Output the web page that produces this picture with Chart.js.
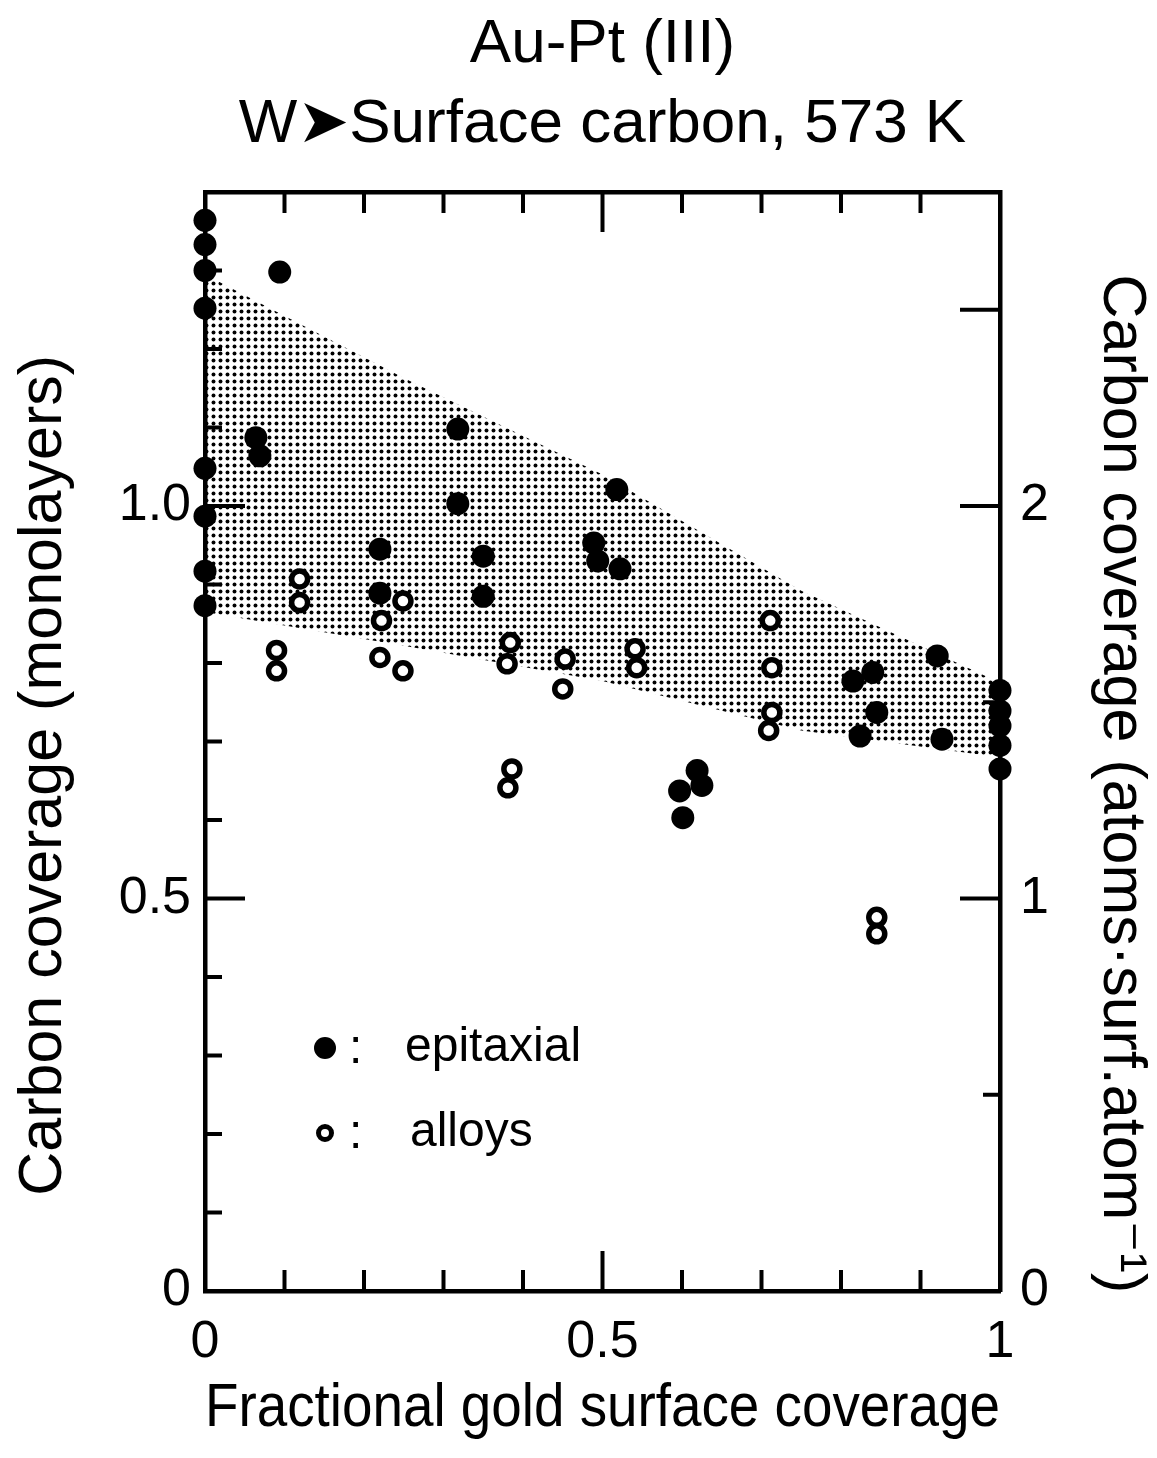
<!DOCTYPE html>
<html>
<head>
<meta charset="utf-8">
<script src="https://cdn.jsdelivr.net/npm/chart.js@4.4.1/dist/chart.umd.min.js"></script>
<style>
html,body{margin:0;padding:0;background:#fff;}
canvas{display:block;}
</style>
</head>
<body>
<canvas id="c" width="1157" height="1458"></canvas>
<script>
// ---------- text ----------
const titleLines = ['Au-Pt (III)', 'W\u27A4Surface carbon, 573 K'];
const xTitle = 'Fractional gold surface coverage';
const yTitle = 'Carbon coverage (monolayers)';
const y2Title = 'Carbon coverage (atoms\u00B7surf.atom\u207B\u00B9)';
const legendLabels = ['epitaxial', 'alloys'];

// ---------- tick labels ----------
const xTickLabels = [0, 0.5, 1];
const yTickLabels = [0, 0.5, 1.0];
const y2TickLabels = [0, 1, 2];

// ---------- data: epitaxial (filled) ----------
const epiX = [0, 0, 0, 0, 0, 0, 0, 0,
  0.094, 0.064, 0.069, 0.318, 0.318, 0.22, 0.22, 0.35, 0.35,
  0.518, 0.489, 0.494, 0.522,
  0.619, 0.625, 0.597, 0.601,
  0.921, 0.815, 0.84, 0.845, 0.824, 0.927,
  1, 1, 1, 1, 1];
const epiY = [1.364, 1.333, 1.300, 1.252, 1.048, 0.987, 0.917, 0.873,
  1.298, 1.087, 1.064, 1.098, 1.003, 0.945, 0.889, 0.936, 0.885,
  1.021, 0.953, 0.930, 0.920,
  0.663, 0.644, 0.637, 0.603,
  0.809, 0.777, 0.788, 0.737, 0.707, 0.703,
  0.765, 0.739, 0.720, 0.695, 0.665];

// ---------- data: alloys (open) ----------
const alloyX = [0.119, 0.119, 0.09, 0.09, 0.222, 0.22, 0.249, 0.249,
  0.384, 0.38, 0.386, 0.381, 0.453, 0.45, 0.541, 0.543,
  0.711, 0.713, 0.713, 0.709, 0.845, 0.845];
const alloyY = [0.907, 0.877, 0.816, 0.790, 0.854, 0.807, 0.879, 0.790,
  0.826, 0.799, 0.665, 0.641, 0.805, 0.767, 0.818, 0.794,
  0.854, 0.794, 0.737, 0.714, 0.476, 0.455];

// ---------- shaded band ----------
const bandX = [0, 0.25, 0.5, 0.75, 1];
const bandUpper = [1.295, 1.163, 1.040, 0.892, 0.775];
const bandLower = [0.865, 0.822, 0.777, 0.714, 0.680];

const INK = '#000';
const FONT = "'Liberation Sans', Arial, 'DejaVu Sans', sans-serif";

const pts = (xs, ys) => xs.map((v, i) => ({x: v, y: ys[i]}));

// halftone pattern
function makePattern() {
  const t = document.createElement('canvas');
  t.width = 7; t.height = 7;
  const g = t.getContext('2d');
  g.fillStyle = INK;
  g.beginPath(); g.arc(3.5, 3.5, 1.95, 0, Math.PI * 2); g.fill();
  return g.createPattern(t, 'repeat');
}
const pattern = makePattern();

const inwardTicks = {
  id: 'inwardTicks',
  beforeDatasetsDraw(chart) {
    const {ctx, chartArea: a, scales} = chart;
    const x = scales.x, y = scales.y, y2 = scales.y2;
    ctx.save();
    ctx.strokeStyle = INK; ctx.lineWidth = 4; ctx.lineCap = 'butt';
    const line = (x1, y1, x2, yy2) => { ctx.beginPath(); ctx.moveTo(x1, y1); ctx.lineTo(x2, yy2); ctx.stroke(); };
    for (let i = 1; i < 10; i++) {
      const px = x.getPixelForValue(i / 10);
      const L = i === 5 ? 40 : 21;
      line(px, a.bottom, px, a.bottom - L);
      line(px, a.top, px, a.top + L);
    }
    for (let i = 1; i <= 13; i++) {
      const py = y.getPixelForValue(i / 10);
      const L = (i % 5 === 0) ? 40 : 17;
      line(a.left, py, a.left + L, py);
    }
    for (let i = 1; i <= 5; i++) {
      const py = y2.getPixelForValue(i * 0.5);
      const L = (i % 2 === 0 || i === 5) ? 40 : 17;
      line(a.right, py, a.right - L, py);
    }
    ctx.restore();
  },
  afterDraw(chart) {
    const {ctx, chartArea: a} = chart;
    ctx.save();
    const lx = a.left + 120;
    const ly1 = a.top + 856, ly2 = a.top + 941;
    ctx.fillStyle = INK;
    ctx.beginPath(); ctx.arc(lx, ly1, 11, 0, Math.PI * 2); ctx.fill();
    ctx.strokeStyle = INK; ctx.lineWidth = 5;
    ctx.beginPath(); ctx.arc(lx, ly2, 6.5, 0, Math.PI * 2); ctx.stroke();
    ctx.font = '48px ' + FONT;
    ctx.textBaseline = 'middle';
    ctx.textAlign = 'left';
    ctx.fillText(':', lx + 24, ly1 + 2);
    ctx.fillText(':', lx + 24, ly2 + 2);
    ctx.fillText(legendLabels[0], lx + 80, ly1);
    ctx.fillText(legendLabels[1], lx + 85, ly2);
    ctx.restore();
  }
};

new Chart(document.getElementById('c'), {
  type: 'scatter',
  plugins: [inwardTicks],
  data: {
    datasets: [
      {
        type: 'line', label: 'band upper', data: pts(bandX, bandUpper),
        borderWidth: 0, borderColor: 'rgba(0,0,0,0)', pointRadius: 0,
        backgroundColor: pattern, fill: '+1', order: 10, tension: 0
      },
      {
        type: 'line', label: 'band lower', data: pts(bandX, bandLower),
        borderWidth: 0, borderColor: 'rgba(0,0,0,0)', pointRadius: 0,
        fill: false, order: 11, tension: 0
      },
      {
        label: legendLabels[0], data: pts(epiX, epiY),
        pointRadius: 11.5, pointBackgroundColor: INK, pointBorderWidth: 0,
        backgroundColor: INK, borderColor: INK, clip: false, order: 1
      },
      {
        label: legendLabels[1], data: pts(alloyX, alloyY),
        pointRadius: 8, pointBackgroundColor: '#fff', pointBorderColor: INK, pointBorderWidth: 5.5,
        backgroundColor: '#fff', borderColor: INK, clip: false, order: 0
      }
    ]
  },
  options: {
    responsive: false,
    animation: false,
    layout: {padding: 0},
    plugins: {
      legend: {display: false},
      tooltip: {enabled: false},
      title: {display: false}
    },
    scales: {
      x: {
        type: 'linear', position: 'bottom', min: 0, max: 1,
        afterFit(s) { s.height = 167; },
        afterBuildTicks(s) { s.ticks = xTickLabels.map(v => ({value: v})); },
        grid: {display: false, drawTicks: false},
        border: {display: true, color: INK, width: 4.5},
        ticks: {color: INK, font: {family: FONT, size: 52}, padding: 20, maxRotation: 0, autoSkip: false,
          callback: v => (v === 0 || v === 1) ? String(v) : v.toFixed(1)},
        title: {display: true, text: xTitle, color: INK, font: {family: FONT, size: 62}, padding: {top: 0, bottom: 12}}
      },
      x2: {
        type: 'linear', position: 'top', min: 0, max: 1,
        afterFit(s) { s.height = 192; },
        grid: {display: false, drawTicks: false},
        border: {display: true, color: INK, width: 4.5},
        ticks: {display: false},
        title: {
          display: true, text: titleLines, color: INK,
          font: {family: FONT, size: 62, lineHeight: 80 / 62},
          padding: {top: 5, bottom: 0}
        }
      },
      y: {
        type: 'linear', position: 'left', min: 0, max: 1.4,
        afterFit(s) { s.width = 205; },
        afterBuildTicks(s) { s.ticks = yTickLabels.map(v => ({value: v})); },
        grid: {display: false, drawTicks: false},
        border: {display: true, color: INK, width: 4.5},
        ticks: {color: INK, font: {family: FONT, size: 52}, padding: 14, autoSkip: false,
          callback: v => v === 0 ? '0' : v.toFixed(1)},
        title: {display: true, text: yTitle + '    ', color: INK, font: {family: FONT, size: 61}, padding: {top: 8, bottom: 0}}
      },
      y2: {
        type: 'linear', position: 'right', min: 0, max: 2.8,
        afterFit(s) { s.width = 157; },
        afterBuildTicks(s) { s.ticks = y2TickLabels.map(v => ({value: v})); },
        grid: {display: false, drawTicks: false},
        border: {display: true, color: INK, width: 4.5},
        ticks: {color: INK, font: {family: FONT, size: 52}, padding: 20, autoSkip: false,
          callback: v => String(v)},
        title: {display: true, text: '     ' + y2Title, color: INK, font: {family: FONT, size: 61}, padding: {top: 0, bottom: 0}}
      }
    }
  }
});
</script>
</body>
</html>
